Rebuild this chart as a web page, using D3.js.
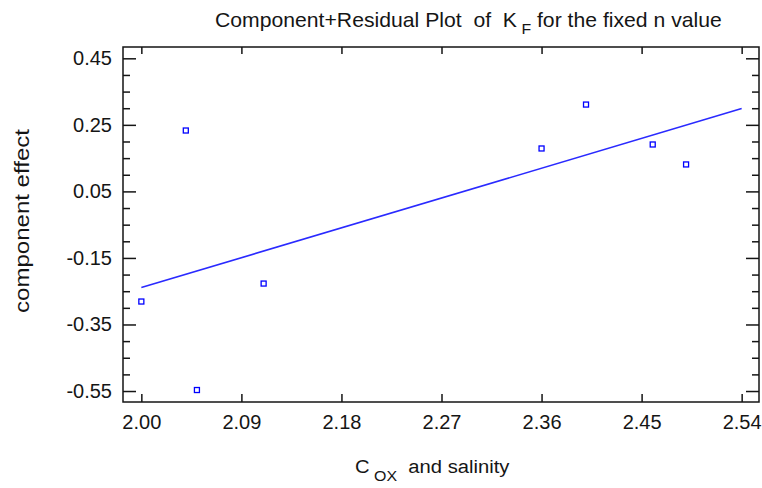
<!DOCTYPE html>
<html>
<head>
<meta charset="utf-8">
<script src="https://cdn.jsdelivr.net/npm/d3@7"></script>
<style>
  html, body { margin: 0; padding: 0; background: #fff; }
  svg { display: block; font-family: "Liberation Sans", Arial, sans-serif; }
  text { white-space: pre; }
</style>
</head>
<body>
<svg id="chart" width="762" height="488"></svg>
<script>
// Observations: component-plus-residual values against C_OX and salinity
const xValues = [2.00, 2.04, 2.05, 2.11, 2.36, 2.40, 2.46, 2.49];
const yValues = [-0.281, 0.233, -0.547, -0.227, 0.179, 0.311, 0.191, 0.131];

// Fitted component line (endpoints in data units)
const fitX = [2.00, 2.54];
const fitY = [-0.239, 0.299];

// Axis tick labels
const xTicks = [2.00, 2.09, 2.18, 2.27, 2.36, 2.45, 2.54];
const yTicks = [0.45, 0.25, 0.05, -0.15, -0.35, -0.55];
const yMinorTicks = [0.40, 0.35, 0.30, 0.20, 0.15, 0.10, 0.00, -0.05, -0.10,
                     -0.20, -0.25, -0.30, -0.40, -0.45, -0.50];

const xDomain = [1.9835, 2.5556];
const yDomain = [-0.583, 0.484];

const svg = d3.select("#chart");
const plot = { left: 123, top: 47, right: 759, bottom: 402 };

const x = d3.scaleLinear().domain(xDomain).range([plot.left, plot.right]);
const y = d3.scaleLinear().domain(yDomain).range([plot.bottom, plot.top]);

const ink = "#151515";
const blue = "#2a2aff";
const fmt = d => d.toFixed(2); // plain hyphen for negatives

function styleAxis(g) {
  g.select(".domain").remove();
  g.selectAll(".tick line").attr("stroke", ink).attr("stroke-width", 1.5);
  g.selectAll(".tick text").attr("fill", ink).attr("font-size", 20);
}

// Stretch a horizontal text block so it spans [x0, x1]
function fitWidth(textSel, x0, x1) {
  const box = textSel.node().getBBox();
  const k = (x1 - x0) / box.width;
  textSel.attr("transform", `translate(${x0},0) scale(${k},1) translate(${-box.x},0)`);
}

// Bottom axis (ticks point inward)
svg.append("g")
  .attr("transform", `translate(0,${plot.bottom})`)
  .call(d3.axisBottom(x).tickValues(xTicks).tickFormat(fmt)
        .tickSize(-8).tickPadding(13))
  .call(styleAxis);

// Top axis, ticks only
svg.append("g")
  .attr("transform", `translate(0,${plot.top})`)
  .call(d3.axisTop(x).tickValues(xTicks).tickFormat("").tickSize(-7))
  .call(styleAxis);

// Left axis: major and minor ticks
svg.append("g")
  .attr("transform", `translate(${plot.left},0)`)
  .call(d3.axisLeft(y).tickValues(yTicks).tickFormat(fmt)
        .tickSize(-13).tickPadding(11))
  .call(styleAxis);
svg.append("g")
  .attr("transform", `translate(${plot.left},0)`)
  .call(d3.axisLeft(y).tickValues(yMinorTicks).tickFormat("").tickSize(-7))
  .call(styleAxis);

// Right axis: major and minor ticks
svg.append("g")
  .attr("transform", `translate(${plot.right},0)`)
  .call(d3.axisRight(y).tickValues(yTicks).tickFormat("").tickSize(-13))
  .call(styleAxis);
svg.append("g")
  .attr("transform", `translate(${plot.right},0)`)
  .call(d3.axisRight(y).tickValues(yMinorTicks).tickFormat("").tickSize(-7))
  .call(styleAxis);

// Frame
svg.append("rect")
  .attr("x", plot.left).attr("y", plot.top)
  .attr("width", plot.right - plot.left).attr("height", plot.bottom - plot.top)
  .attr("fill", "none").attr("stroke", ink).attr("stroke-width", 1.5);

// Fitted line
svg.append("line")
  .attr("x1", x(fitX[0])).attr("y1", y(fitY[0]))
  .attr("x2", x(fitX[1])).attr("y2", y(fitY[1]))
  .attr("stroke", blue).attr("stroke-width", 1.6);

// Points as small open squares
svg.append("g").selectAll("rect")
  .data(d3.range(xValues.length))
  .join("rect")
  .attr("x", i => x(xValues[i]) - 2.5)
  .attr("y", i => y(yValues[i]) - 2.5)
  .attr("width", 5).attr("height", 5)
  .attr("fill", "#fff").attr("stroke", "#0000ff").attr("stroke-width", 1.3);

// Title
const title = svg.append("text")
  .attr("y", 27)
  .attr("font-size", 20).attr("fill", ink);
title.append("tspan").text("Component+Residual Plot  of  K");
title.append("tspan").attr("font-size", 15).attr("dy", 7).text(" F");
title.append("tspan").attr("dy", -7).text(" for the fixed n value");
fitWidth(title, 215, 722);

// X axis label
const xl = svg.append("text")
  .attr("y", 473)
  .attr("font-size", 19).attr("fill", ink);
xl.append("tspan").text("C");
xl.append("tspan").attr("font-size", 15).attr("dy", 8).text(" OX");
xl.append("tspan").attr("dy", -8).text("  and salinity");
fitWidth(xl, 355, 510);

// Y axis label
svg.append("text")
  .attr("transform", "translate(29,221) rotate(-90)")
  .attr("text-anchor", "middle")
  .attr("font-size", 20).attr("fill", ink)
  .attr("textLength", 184).attr("lengthAdjust", "spacingAndGlyphs")
  .text("component effect");
</script>
</body>
</html>
